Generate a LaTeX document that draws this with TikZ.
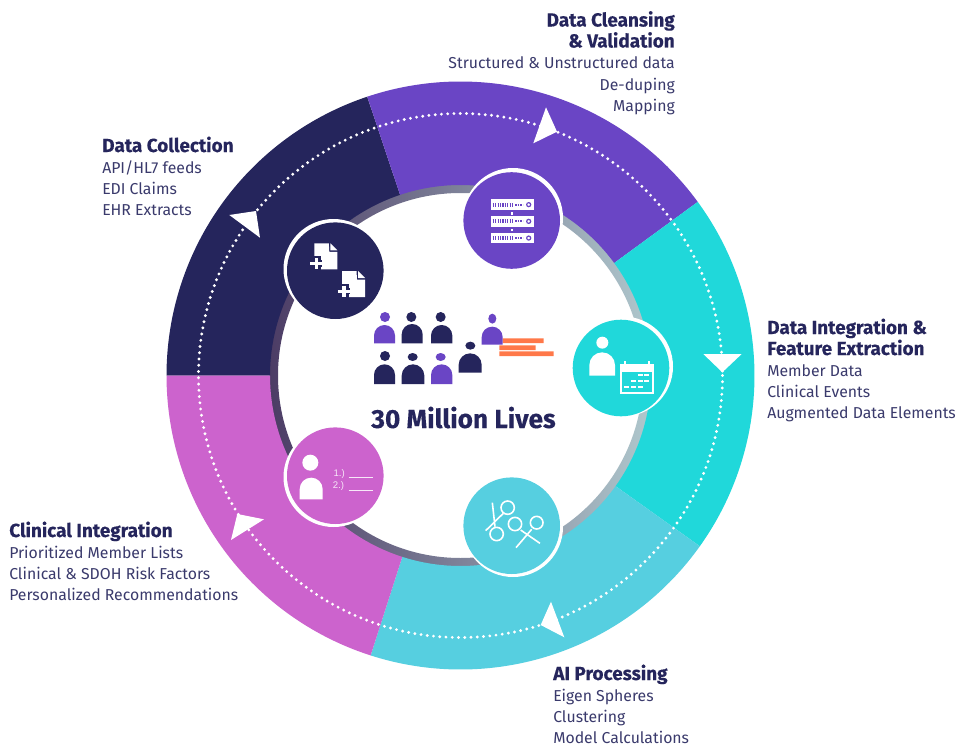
\documentclass[tikz,border=0pt]{standalone}
\usepackage{fontspec}
\setmainfont{Fira Sans}
\newfontfamily\iconfont{Liberation Sans}
\newfontfamily\headfont[FakeBold=0.25]{Fira Sans Bold}
\definecolor{navy}{HTML}{25255C}
\definecolor{violet1}{HTML}{6A45C5}
\definecolor{teal1}{HTML}{20D8DA}
\definecolor{sky1}{HTML}{56CFE0}
\definecolor{pink1}{HTML}{CC63CD}
\definecolor{orange1}{HTML}{FF7849}
\definecolor{bodyink}{HTML}{3A3A6C}
\definecolor{ringleft}{HTML}{4C3C65}
\definecolor{ringmid}{HTML}{80809C}
\definecolor{ringright}{HTML}{B0C8CD}
\tikzset{
  headtext/.style={inner sep=0pt,text=navy,font=\headfont\fontsize{14.2}{16}\selectfont},
  bodytext/.style={inner sep=0pt,text=bodyink,font=\fontsize{11.85}{14}\selectfont},
  iconline/.style={draw=white,line width=1.2pt},
}
\newcommand{\sectorband}[3]{%
  \fill[#1] plot[domain=#2:#3,samples=80] ({460.5+294*cos(\x)},{375.5-294*sin(\x)})
    -- plot[domain=#3:#2,samples=80] ({460.5+190.5*cos(\x)},{375.5-190.5*sin(\x)}) -- cycle;}
\newcommand{\archbody}[5]{%
  \pgfmathsetmacro{\archr}{(#3-#2)/2}%
  \pgfmathsetmacro{\archc}{0.5523*\archr}%
  \pgfmathsetmacro{\archm}{(#2+#3)/2}%
  \fill[#1] (#2,#5) -- (#2,#4+\archr) .. controls (#2,#4+\archr-\archc) and (\archm-\archc,#4) .. (\archm,#4)
    .. controls (\archm+\archc,#4) and (#3,#4+\archr-\archc) .. (#3,#4+\archr) -- (#3,#5) -- cycle;}
\newcommand{\badgedisc}[5]{%
  \fill[white] (#2,#3) circle (50);
  \fill[#1] (#4,#5) circle (48.3);}
\begin{document}
\begin{tikzpicture}[x=0.75pt,y=-0.75pt]
\useasboundingbox (0,0) rectangle (958,746);
\fill[white] (0,0) rectangle (958,746);
% gradient ring
\path[even odd rule,left color=ringleft,middle color=ringmid,right color=ringright] (460.5,375.5) circle (191) (460.5,375.5) circle (182.5);
% sectors
\sectorband{navy}{108.5}{180}
\sectorband{violet1}{36.2}{108.5}
\sectorband{teal1}{-35.5}{36.2}
\sectorband{sky1}{-107.8}{-35.5}
\sectorband{pink1}{180}{252.2}
% dotted orbit
\draw[white,line width=2.4pt,line cap=round,dash pattern=on 0pt off 4.7pt] (460.5,375.5) circle (262);
% arrowheads
\fill[white] (256,211) -- (229.3,215) -- (260,237.7) -- cycle;
\fill[white] (557,131.7) -- (546,107.3) -- (533.3,143.3) -- cycle;
\fill[white] (722.3,372.3) -- (703.3,354) -- (741.7,354) -- cycle;
\fill[white] (540.7,625) -- (551,601.7) -- (564.3,637.3) -- cycle;
\fill[white] (237.3,514) -- (264,519.3) -- (231,540) -- cycle;
% badges
\badgedisc{navy}{333.5}{269}{335.3}{270.7}
\badgedisc{violet1}{513}{218}{511.7}{220.5}
\badgedisc{teal1}{623}{366.5}{621}{368}
\badgedisc{sky1}{513}{527}{511.7}{525.7}
\badgedisc{pink1}{333.5}{477}{335.3}{475.7}
% document icons
\foreach \dx/\dy in {314.3/243.3,342/271} {
  \begin{scope}[shift={(\dx,\dy)}]
    \fill[white] (0,0) -- (14.5,0) -- (15,8.5) -- (23,8.5) -- (23,26) -- (0,26) -- cycle;
    \fill[white] (16,0) -- (23,7) -- (16,7) -- cycle;
    \fill[navy] (-6,13) rectangle (6.5,27);
    \draw[navy,line width=4.6pt] (-4,20.2) -- (8,20.2);
    \draw[white,line width=2.5pt] (-4.2,20.2) -- (8,20.2) (1.9,14.7) -- (1.9,25.7);
  \end{scope}
}
% server icon
\foreach \sy in {199.3,216,232.7} {
  \fill[white] (490.7,\sy) rectangle (534,\sy+10.7);
  \draw[violet1,line width=3pt,dash pattern=on 0.9pt off 0.9pt] (492.7,\sy+5.35) -- (512.7,\sy+5.35);
  \draw[violet1,line width=1.6pt,dash pattern=on 1.2pt off 0.8pt] (515,\sy+5.35) -- (523,\sy+5.35);
  \draw[violet1,line width=0.9pt] (528.7,\sy+5.35) circle (2);
}
\fill[white] (511,212) rectangle (513.2,214.5);
\fill[white] (511,228.5) rectangle (513.2,231);
% person + calendar icon
\begin{scope}[shift={(560,300)},x=.25pt,y=-.25pt]
  \fill[white] (127,128) circle (18);
  \archbody{white}{88}{165}{157}{227}
  \draw[white,line width=1.3pt] (183,196) rectangle (280,278);
  \fill[white] (183,196) rectangle (280,215);
  \draw[white,line width=1.1pt] (195,184) -- (195,198) (267,184) -- (267,198);
  \draw[white,line width=1.1pt] (235,225) -- (250,225) (253,225) -- (268,225);
  \draw[white,line width=1.1pt] (213,243) -- (228,243) (235,243) -- (250,243) (253,243) -- (268,243);
  \draw[white,line width=1.1pt] (192,261) -- (207,261) (213,261) -- (228,261) (235,261) -- (250,261);
\end{scope}
% magnifier icon
\begin{scope}[shift={(440,470)},x=.25pt,y=-.25pt]
  \draw[iconline] (203,113) circle (20) (170,192) circle (20) (225,162) circle (20) (290,158) circle (19);
  \draw[iconline] (157,98) -- (165,170) (137,182) -- (190,130) (242,180) -- (300,220) (228,233) -- (275,178);
\end{scope}
% ranked list icon
\begin{scope}[shift={(270,420)},x=.25pt,y=-.25pt]
  \fill[white] (121,128) circle (24);
  \archbody{white}{89}{158}{173}{238}
  \node[inner sep=0pt,text=white!85!pink1,anchor=base west,font=\iconfont\fontsize{7.2}{9}\selectfont] (rankone) at (190,168) {1.)};
  \node[inner sep=0pt,text=white!85!pink1,anchor=base west,font=\iconfont\fontsize{7.2}{9}\selectfont] (ranktwo) at (188,205) {2.)};
  \draw[white!85!pink1,line width=0.6pt] (236,173) -- (308,173) (236,210) -- (308,210);
\end{scope}
% crowd
\begin{scope}[shift={(360,300)},x=.25pt,y=-.25pt]
  \fill[orange1] (428,115) rectangle (551,129) (418,136) rectangle (527,150) (418,154) rectangle (581,168);
  \fill[violet1] (75,51) circle (15);        \archbody{violet1}{42}{105}{75}{130}
  \fill[navy] (154,51) circle (15);          \archbody{navy}{125}{188}{72}{130}
  \fill[navy] (242,51) circle (15);          \archbody{navy}{213}{277}{75}{130}
  \fill[violet1] (397,56) ellipse (12 and 15); \archbody{violet1}{365}{428}{80}{134}
  \fill[navy] (331,137) ellipse (15 and 12);  \archbody{navy}{296}{365}{160}{218}
  \fill[navy] (75,168) circle (15);          \archbody{navy}{42}{105}{193}{252}
  \fill[navy] (158,171) ellipse (15 and 12);  \archbody{navy}{125}{193}{193}{252}
  \fill[violet1] (242,171) ellipse (15 and 12); \archbody{violet1}{213}{277}{193}{252}
\end{scope}
% centre title
\node[inner sep=0pt,text=navy,anchor=base,font=\headfont\fontsize{19.7}{24}\selectfont] (title) at (463.5,428) {30 Million Lives};
% labels
\node[headtext,anchor=base east] (clean1) at (675,26.5) {Data Cleansing};
\node[headtext,anchor=base east] (clean2) at (675,47.5) {\& Validation};
\node[bodytext,anchor=base east] (clean3) at (675,68.5) {Structured \& Unstructured data};
\node[bodytext,anchor=base east] (clean4) at (675,90) {De-duping};
\node[bodytext,anchor=base east] (clean5) at (675,111) {Mapping};
\node[headtext,anchor=base west] (coll1) at (102,152) {Data Collection};
\node[bodytext,anchor=base west] (coll2) at (102,173.5) {API/HL7 feeds};
\node[bodytext,anchor=base west] (coll3) at (102,194.5) {EDI Claims};
\node[bodytext,anchor=base west] (coll4) at (102,215.5) {EHR Extracts};
\node[headtext,anchor=base west] (integ1) at (767,334) {Data Integration \&};
\node[headtext,anchor=base west] (integ2) at (767,355) {Feature Extraction};
\node[bodytext,anchor=base west] (integ3) at (767,376) {Member Data};
\node[bodytext,anchor=base west] (integ4) at (767,397) {Clinical Events};
\node[bodytext,anchor=base west] (integ5) at (767,418.5) {Augmented Data Elements};
\node[headtext,anchor=base west] (clin1) at (9,537) {Clinical Integration};
\node[bodytext,anchor=base west] (clin2) at (9,558.5) {Prioritized Member Lists};
\node[bodytext,anchor=base west] (clin3) at (9,579.5) {Clinical \& SDOH Risk Factors};
\node[bodytext,anchor=base west] (clin4) at (9,600.5) {Personalized Recommendations};
\node[headtext,anchor=base west] (ai1) at (553,680) {AI Processing};
\node[bodytext,anchor=base west] (ai2) at (553,701.5) {Eigen Spheres};
\node[bodytext,anchor=base west] (ai3) at (553,722.5) {Clustering};
\node[bodytext,anchor=base west] (ai4) at (553,743.5) {Model Calculations};
\end{tikzpicture}
\end{document}
